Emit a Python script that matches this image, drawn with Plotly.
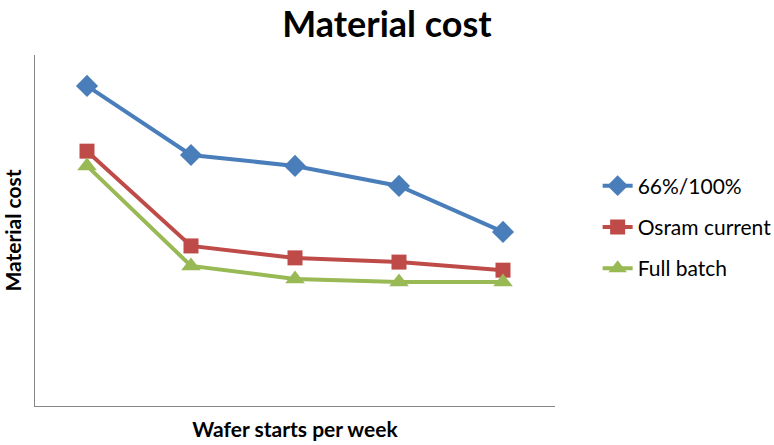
import plotly.graph_objects as go

categories = ["A", "B", "C", "D", "E"]
series_names = ["66%/100%", "Osram current", "Full batch"]
blue_vals = [9.12, 7.15, 6.84, 6.27, 4.96]
red_vals = [7.26, 4.56, 4.22, 4.10, 3.87]
green_vals = [6.84, 3.99, 3.62, 3.53, 3.53]
colors = ["#4A7EBB", "#BE4B48", "#98B954"]
symbols = ["diamond", "square", "triangle-up"]
sizes = [17, 15, 17]

fig = go.Figure()
for i, (name, vals) in enumerate(zip(series_names, [blue_vals, red_vals, green_vals])):
    fig.add_trace(go.Scatter(
        x=list(range(len(categories))), y=vals, name=name,
        mode="lines+markers", legendgroup=name,
        line=dict(color=colors[i], width=4),
        marker=dict(symbol=symbols[i], size=sizes[i], color=colors[i]),
    ))

fig.update_layout(
    width=774, height=445,
    margin=dict(l=35, r=219, t=55, b=39, autoexpand=False),
    paper_bgcolor="white", plot_bgcolor="white",
    title=dict(text="<b>Material cost</b>", x=0.5, xanchor="center", y=0.945, yanchor="middle",
               font=dict(family="Lato, Arial", size=36, color="black")),
    xaxis=dict(range=[-0.5, 4.5], showgrid=False, zeroline=False, showticklabels=False,
               ticks="", showline=True, linecolor="#868686", linewidth=1, automargin=False,
               title=dict(text="<b>Wafer starts per week</b>", standoff=16,
                          font=dict(family="Lato, Arial", size=21, color="black"))),
    yaxis=dict(range=[0, 10], showgrid=False, zeroline=False, showticklabels=False,
               ticks="", showline=True, linecolor="#868686", linewidth=1, automargin=False,
               title=dict(text="<b>Material cost</b>", standoff=6,
                          font=dict(family="Lato, Arial", size=21, color="black"))),
    legend=dict(x=1.082, xanchor="left", y=0.51, yanchor="middle",
                font=dict(family="Lato, Arial", size=21, color="black"),
                tracegroupgap=11, bgcolor="rgba(0,0,0,0)"),
    showlegend=True,
)

fig.write_html("out.html")
